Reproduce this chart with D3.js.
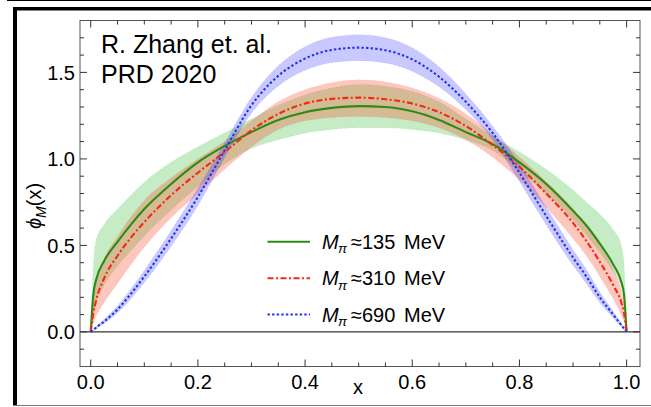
<!DOCTYPE html>
<html>
<head>
<meta charset="utf-8">
<script src="https://cdn.jsdelivr.net/npm/d3@7"></script>
<style>
  body { margin: 0; background: #fff; }
  svg { display: block; font-family: "Liberation Sans", Arial, sans-serif; }
</style>
</head>
<body>
<div id="chart"></div>
<script>
// x grid the curves were read at
const xs = [0, 0.005, 0.01, 0.025, 0.05, 0.075, 0.1, 0.15, 0.2, 0.25, 0.3, 0.35, 0.4, 0.45, 0.5,
            0.55, 0.6, 0.65, 0.7, 0.75, 0.8, 0.85, 0.9, 0.925, 0.95, 0.975, 0.99, 0.995, 1];

// M_pi ~ 135 MeV
const phi135 = [0, 0.22, 0.30, 0.41, 0.52, 0.62, 0.71, 0.855, 0.98, 1.075, 1.155, 1.225, 1.27, 1.295, 1.305,
                1.30, 1.275, 1.225, 1.155, 1.085, 0.98, 0.855, 0.70, 0.615, 0.51, 0.39, 0.29, 0.22, 0];
const phi135Lo = [0, 0.10, 0.17, 0.27, 0.38, 0.47, 0.555, 0.705, 0.84, 0.97, 1.06, 1.11, 1.15, 1.17, 1.18,
                  1.18, 1.17, 1.15, 1.11, 1.05, 0.93, 0.80, 0.65, 0.56, 0.46, 0.35, 0.26, 0.19, 0];
const phi135Hi = [0, 0.38, 0.53, 0.62, 0.71, 0.79, 0.865, 0.98, 1.07, 1.15, 1.23, 1.31, 1.37, 1.41, 1.43,
                  1.42, 1.39, 1.33, 1.23, 1.13, 1.04, 0.94, 0.82, 0.75, 0.68, 0.59, 0.50, 0.40, 0];

// M_pi ~ 310 MeV
const phi310 = [0, 0.11, 0.18, 0.31, 0.44, 0.545, 0.635, 0.79, 0.92, 1.04, 1.165, 1.26, 1.32, 1.347, 1.354,
                1.345, 1.32, 1.27, 1.19, 1.08, 0.955, 0.80, 0.63, 0.525, 0.405, 0.27, 0.17, 0.11, 0];
const phi310Lo = [0, 0.05, 0.09, 0.17, 0.28, 0.39, 0.49, 0.66, 0.80, 0.94, 1.07, 1.17, 1.22, 1.24, 1.245,
                  1.24, 1.22, 1.18, 1.11, 1.01, 0.88, 0.72, 0.54, 0.44, 0.32, 0.19, 0.10, 0.06, 0];
const phi310Hi = [0, 0.20, 0.28, 0.42, 0.55, 0.665, 0.76, 0.89, 1.00, 1.10, 1.22, 1.33, 1.40, 1.44, 1.457,
                  1.445, 1.41, 1.35, 1.26, 1.14, 1.01, 0.87, 0.71, 0.61, 0.50, 0.36, 0.24, 0.16, 0];

// M_pi ~ 690 MeV
const phi690 = [0, 0.012, 0.025, 0.06, 0.13, 0.22, 0.32, 0.54, 0.78, 1.05, 1.31, 1.48, 1.58, 1.63, 1.643,
                1.628, 1.575, 1.475, 1.33, 1.15, 0.92, 0.67, 0.43, 0.32, 0.20, 0.10, 0.04, 0.02, 0];
const phi690Lo = [0, 0.009, 0.02, 0.048, 0.11, 0.192, 0.285, 0.495, 0.73, 1.008, 1.265, 1.422, 1.512, 1.557, 1.568,
                  1.555, 1.507, 1.417, 1.285, 1.11, 0.87, 0.62, 0.385, 0.28, 0.17, 0.082, 0.032, 0.016, 0];
const phi690Hi = [0, 0.015, 0.03, 0.072, 0.15, 0.248, 0.355, 0.585, 0.83, 1.092, 1.355, 1.538, 1.648, 1.703, 1.718,
                  1.701, 1.643, 1.533, 1.375, 1.19, 0.97, 0.72, 0.475, 0.36, 0.23, 0.118, 0.048, 0.024, 0];

const seriesNames = ["135", "310", "690"];
const xTicks = [0, 0.2, 0.4, 0.6, 0.8, 1.0];
const yTicks = [0, 0.5, 1.0, 1.5];

const width = 651, height = 407;

const svg = d3.select("#chart").append("svg")
  .attr("width", width)
  .attr("height", height);

// outer page frame
svg.append("line").attr("x1", 7).attr("x2", width).attr("y1", 0.5).attr("y2", 0.5)
  .attr("stroke", "#000").attr("stroke-width", 1);
svg.append("line").attr("x1", 13).attr("x2", width).attr("y1", 8.8).attr("y2", 8.8)
  .attr("stroke", "#000").attr("stroke-width", 3.6);
svg.append("line").attr("x1", 15).attr("x2", 15).attr("y1", 7).attr("y2", 405)
  .attr("stroke", "#000").attr("stroke-width", 4);
svg.append("line").attr("x1", 13).attr("x2", width).attr("y1", 405.5).attr("y2", 405.5)
  .attr("stroke", "#777").attr("stroke-width", 1.2);

const x = d3.scaleLinear().domain([-0.02, 1.025]).range([80, 640]);
const y = d3.scaleLinear().domain([-0.2, 1.8]).range([366.5, 20.5]);

const plot = svg.append("g");

// bands
const bands = [
  { lo: phi135Lo, hi: phi135Hi, fill: "rgb(40,185,40)", op: 0.27 },
  { lo: phi310Lo, hi: phi310Hi, fill: "rgb(250,70,40)", op: 0.3 },
  { lo: phi690Lo, hi: phi690Hi, fill: "rgb(30,30,255)", op: 0.24 }
];

const area = d3.area()
  .x(d => x(d.x))
  .y0(d => y(d.lo))
  .y1(d => y(d.hi))
  .curve(d3.curveMonotoneX);

bands.forEach(b => {
  const data = xs.map((v, i) => ({ x: v, lo: b.lo[i], hi: b.hi[i] }));
  plot.append("path")
    .datum(data)
    .attr("d", area)
    .attr("fill", b.fill)
    .attr("fill-opacity", b.op)
    .attr("stroke", b.fill)
    .attr("stroke-opacity", 0.12)
    .attr("stroke-width", 1)
    .attr("stroke-dasharray", "2,2");
});

// zero line
plot.append("line")
  .attr("x1", x.range()[0]).attr("x2", x.range()[1])
  .attr("y1", y(0)).attr("y2", y(0))
  .attr("stroke", "#000").attr("stroke-width", 1);

// central curves
const lines = [
  { vals: phi135, color: "#2f8a14", dash: null },
  { vals: phi310, color: "#f22a12", dash: "6,2.5,2,2.5" },
  { vals: phi690, color: "#1e35f0", dash: "2.4,2.2" }
];

const line = d3.line()
  .x(d => x(d.x))
  .y(d => y(d.v))
  .curve(d3.curveMonotoneX);

lines.forEach(l => {
  plot.append("path")
    .datum(xs.map((v, i) => ({ x: v, v: l.vals[i] })))
    .attr("d", line)
    .attr("fill", "none")
    .attr("stroke", l.color)
    .attr("stroke-width", 2.1)
    .attr("stroke-dasharray", l.dash);
});

// plot frame
const [x0, x1] = x.range();
const [yb, yt] = y.range();
svg.append("rect")
  .attr("x", x0).attr("y", yt)
  .attr("width", x1 - x0).attr("height", yb - yt)
  .attr("fill", "none").attr("stroke", "#555").attr("stroke-width", 1);

// ticks (inside, all four sides)
const xMinor = d3.range(0, 1.0001, 0.05);
const yMinor = d3.range(-0.1, 1.7501, 0.1);
const isMajor = (v, step) => Math.abs(v / step - Math.round(v / step)) < 1e-6;
const tickG = svg.append("g").attr("stroke", "#333").attr("stroke-width", 1);
xMinor.forEach(v => {
  const len = isMajor(v, 0.2) ? 7 : 4;
  const px = x(v);
  tickG.append("line").attr("x1", px).attr("x2", px).attr("y1", yb).attr("y2", yb - len);
  tickG.append("line").attr("x1", px).attr("x2", px).attr("y1", yt).attr("y2", yt + len);
});
yMinor.forEach(v => {
  const len = isMajor(v, 0.5) ? 7 : 4;
  const py = y(v);
  tickG.append("line").attr("x1", x0).attr("x2", x0 + len).attr("y1", py).attr("y2", py);
  tickG.append("line").attr("x1", x1).attr("x2", x1 - len).attr("y1", py).attr("y2", py);
});

// tick labels
svg.append("g").selectAll("text").data(xTicks).enter().append("text")
  .attr("x", d => x(d))
  .attr("y", 389)
  .attr("text-anchor", "middle")
  .attr("font-size", 20)
  .text(d => d.toFixed(1));

svg.append("g").selectAll("text").data(yTicks).enter().append("text")
  .attr("x", 75)
  .attr("y", d => y(d))
  .attr("dy", "0.36em")
  .attr("text-anchor", "end")
  .attr("font-size", 20)
  .text(d => d.toFixed(1));

// axis labels
svg.append("text")
  .attr("x", 358).attr("y", 394)
  .attr("text-anchor", "middle")
  .attr("font-size", 20)
  .text("x");

const yl = svg.append("text")
  .attr("transform", "translate(41,206) rotate(-90)")
  .attr("text-anchor", "middle")
  .attr("font-size", 20);
yl.append("tspan").attr("font-style", "italic").text("ϕ");
yl.append("tspan").attr("font-style", "italic").attr("font-size", 14).attr("dy", 5).text("M");
yl.append("tspan").attr("dy", -5).text("(x)");

// annotation
svg.append("text").attr("x", 101).attr("y", 53).attr("font-size", 25).text("R. Zhang et. al.");
svg.append("text").attr("x", 101).attr("y", 83).attr("font-size", 25).text("PRD 2020");

// legend
const legendY = [241.7, 278.3, 314.5];
const lg = svg.append("g");
lines.forEach((l, i) => {
  const cy = legendY[i];
  lg.append("line")
    .attr("x1", 267.5).attr("x2", 310)
    .attr("y1", cy).attr("y2", cy)
    .attr("stroke", l.color).attr("stroke-width", 2.1)
    .attr("stroke-dasharray", l.dash);
  const t = lg.append("text")
    .attr("y", cy + 7)
    .attr("font-size", 20);
  t.append("tspan").attr("x", 322).attr("font-style", "italic").text("M");
  t.append("tspan").attr("x", 338).attr("dy", 4.5).attr("font-style", "italic").attr("font-size", 13.5).text("π");
  t.append("tspan").attr("x", 351).attr("dy", -4.5).text("≈" + seriesNames[i]);
  t.append("tspan").attr("x", 404).text("MeV");
});
</script>
</body>
</html>
